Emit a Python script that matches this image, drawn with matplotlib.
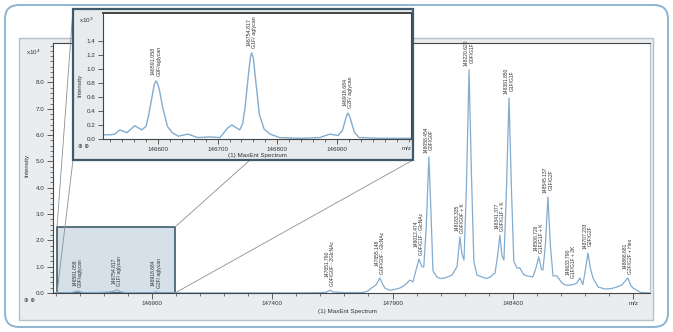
import numpy as np
import matplotlib
matplotlib.use("Agg")
import matplotlib.pyplot as plt
from matplotlib.patches import Rectangle, FancyBboxPatch
from matplotlib.lines import Line2D
from matplotlib.transforms import IdentityTransform
from matplotlib.ticker import MultipleLocator

plt.rcParams['font.family'] = ['Liberation Sans', 'DejaVu Sans']

# deconvoluted spectrum, full range (intensity x10^4)
main_mz = [146491, 146540, 146565, 146580, 146591, 146602, 146620, 146680, 146700, 146720,
           146740, 146754, 146768, 146790, 146880, 146905, 146918, 146930, 147000, 147500,
           147590, 147625, 147640, 147652, 147700, 147780, 147798, 147814, 147831, 147848,
           147858, 147868, 147889, 147915, 147931, 147951, 147972, 147985, 147997, 148010,
           148022, 148030, 148040, 148051, 148060, 148068, 148084, 148100, 148118, 148147,
           148168, 148180, 148188, 148197, 148207, 148218, 148228, 148238, 148251, 148271,
           148290, 148305, 148326, 148338, 148346, 148355, 148363, 148373, 148384, 148394,
           148404, 148417, 148429, 148445, 148459, 148483, 148496, 148508, 148519, 148525,
           148535, 148546, 148556, 148567, 148583, 148604, 148620, 148637, 148655, 148666,
           148679, 148691, 148702, 148712, 148722, 148733, 148754, 148783, 148810, 148830,
           148853, 148866, 148878, 148890, 148899, 148920, 148932, 148970]
main_int = [0.005, 0.01, 0.02, 0.045, 0.083, 0.04, 0.015, 0.02, 0.03, 0.035,
            0.06, 0.123, 0.05, 0.015, 0.01, 0.015, 0.037, 0.01, 0.005, 0.005,
            0.01, 0.03, 0.11, 0.04, 0.015, 0.02, 0.08, 0.2, 0.3, 0.57,
            0.35, 0.19, 0.1, 0.15, 0.19, 0.3, 0.49, 0.42, 0.85, 1.29,
            1.0, 0.99, 2.5, 5.17, 3.0, 0.85, 0.61, 0.55, 0.57, 0.68,
            1.0, 2.13, 1.5, 1.25, 4.0, 8.48, 4.5, 1.2, 0.68, 0.61,
            0.55, 0.6, 0.76, 1.5, 2.2, 1.4, 1.25, 3.8, 7.41, 4.0,
            1.2, 0.95, 0.95, 0.7, 0.65, 0.61, 0.95, 1.37, 0.9, 0.87,
            1.8, 3.65, 1.8, 0.65, 0.65, 0.38, 0.3, 0.3, 0.33, 0.38,
            0.57, 0.32, 0.9, 1.52, 0.95, 0.57, 0.23, 0.15, 0.17, 0.22,
            0.3, 0.45, 0.57, 0.3, 0.19, 0.08, 0.02, 0.005]

main_pk_mz = [146591, 146754, 146918, 147640, 147848, 148010, 148051, 148180,
              148218, 148346, 148384, 148508, 148546, 148640, 148712, 148878]
main_pk_int = [0.083, 0.123, 0.037, 0.11, 0.57, 1.29, 5.17, 2.13,
               8.48, 2.2, 7.41, 1.37, 3.65, 0.4, 1.52, 0.57]
main_pk_txt = ["146591.058\nG0F/aglycan", "146754.817\nG1F/ aglycan", "146918.684\nG2F/ aglycan",
               "147651.760\nG0F/G0F - 2GlcNAc", "147855.148\nG0F/G0F - GlcNAc",
               "148012.474\nG0F/G1F - GlcNAc", "148058.454\nG0F/G0F", "148183.335\nG0F/G0F + K",
               "148220.620\nG0F/G1F", "148341.377\nG0F/G1F + K", "148381.850\nG1F/G1F",
               "148508.726\nG1F/G1F + K", "148545.137\nG1F/G2F", "148633.790\nG1F/G1F + 2K",
               "148707.233\nG2F/G2F", "148868.681\nG2F/G2F + Hex"]

# zoomed region (intensity x10^3)
zoom_mz = [146508, 146520, 146528, 146536, 146548, 146561, 146573, 146580, 146584, 146589,
           146594, 146597, 146600, 146603, 146608, 146616, 146624, 146634, 146650, 146667,
           146687, 146704, 146717, 146724, 146737, 146742, 146746, 146752, 146755, 146757,
           146760, 146763, 146770, 146778, 146788, 146804, 146838, 146871, 146888, 146902,
           146909, 146915, 146918, 146921, 146929, 146937, 146972, 147024]
zoom_int = [0.06, 0.06, 0.07, 0.13, 0.09, 0.19, 0.13, 0.18, 0.32, 0.55,
            0.78, 0.83, 0.78, 0.68, 0.45, 0.18, 0.09, 0.04, 0.07, 0.02,
            0.03, 0.02, 0.16, 0.2, 0.13, 0.22, 0.45, 0.95, 1.17, 1.23,
            1.15, 0.9, 0.35, 0.14, 0.07, 0.02, 0.01, 0.02, 0.07, 0.05,
            0.12, 0.3, 0.37, 0.33, 0.1, 0.02, 0.01, 0.01]
zoom_pk_mz = [146597, 146757, 146918]
zoom_pk_int = [0.83, 1.23, 0.37]
zoom_pk_txt = main_pk_txt[:3]

W, H = 673, 332
line_col = '#82acd0'
dark = '#3e5a6b'
txt_col = '#333333'

fig = plt.figure(figsize=(W / 100, H / 100), dpi=100)
px = IdentityTransform()


def fpos(x, y):
    return x / W, 1 - y / H


def ftext(x, y, s, **kw):
    fx, fy = fpos(x, y)
    kw.setdefault('fontsize', 4.5)
    kw.setdefault('color', txt_col)
    kw.setdefault('ha', 'center')
    kw.setdefault('va', 'center')
    fig.text(fx, fy, s, **kw)


# outer rounded frame
fig.add_artist(FancyBboxPatch((5, H - 327), 663, 322, boxstyle="round,pad=0,rounding_size=14",
                              transform=px, fc='white', ec='#8db5d2', lw=1.4, zorder=0.1))
# main panel
fig.add_artist(Rectangle((19, H - 320), 634, 282, transform=px, fc='#eaedf0', ec='#b5c0c8',
                         lw=1.0, zorder=0.2))

ax = fig.add_axes([53 / W, 1 - 293 / H, 597 / W, 250 / H])
ax.set_zorder(1)
ax.add_patch(Rectangle((146505, 0), 491, 2.5, fc='#d5e0e9', ec=dark, lw=1.2, zorder=1))
ax.plot(main_mz, main_int, color=line_col, lw=0.9, zorder=2)
for m, v, t in zip(main_pk_mz, main_pk_int, main_pk_txt):
    ax.annotate(t, (m, v), xytext=(0, 3), textcoords='offset points', rotation=90,
                ha='center', va='bottom', multialignment='center', fontsize=3.6,
                color=txt_col, linespacing=1.15, zorder=3)
ax.set_xlim(146489, 148970)
ax.set_ylim(0, 9.5)
ax.set_xticks([146900, 147400, 147900, 148400, 148900])
ax.set_xticklabels(['146900', '147400', '147900', '148400', 'm/z'])
ax.xaxis.set_minor_locator(MultipleLocator(100))
ax.set_yticks(np.arange(0, 9))
ax.set_yticklabels(['%.1f' % v for v in np.arange(0, 9)])
ax.yaxis.set_minor_locator(MultipleLocator(0.2))
ax.tick_params(which='major', direction='out', length=4, width=0.6, labelsize=4.5, pad=2,
               colors='#444', labelcolor=txt_col)
ax.tick_params(which='minor', direction='out', length=2, width=0.5, colors='#444')
for s in ax.spines.values():
    s.set_color('#444')
    s.set_linewidth(0.8)
ax.spines['right'].set_color('#b5c0c8')

ftext(33, 52, r'x10$^4$', fontsize=4.5)
ftext(27, 165, 'Intensity', rotation=90, fontsize=4.5)
ftext(347, 312, '(1) MaxEnt Spectrum', fontsize=4.5)
ftext(30, 300, '\u2295 \u2295', fontsize=4, family='DejaVu Sans')

# connector lines between box and inset
for (x1, y1), (x2, y2) in [((57, 227), (73, 9)), ((57, 293), (73, 160)),
                           ((175, 227), (250, 160)), ((175, 293), (413, 160))]:
    fig.add_artist(Line2D([x1, x2], [H - y1, H - y2], transform=px, color='#8a8f94',
                          lw=0.6, zorder=1.5))

# inset panel
fig.add_artist(Rectangle((73, H - 160), 340, 151, transform=px, fc='#e7ebee', ec=dark,
                         lw=1.6, zorder=2))
axi = fig.add_axes([103 / W, 1 - 139 / H, 308 / W, 126 / H])
axi.set_zorder(3)
axi.plot(zoom_mz, zoom_int, color=line_col, lw=1.0)
for m, v, t in zip(zoom_pk_mz, zoom_pk_int, zoom_pk_txt):
    axi.annotate(t, (m, v), xytext=(0, 3.5), textcoords='offset points', rotation=90,
                 ha='center', va='bottom', multialignment='center', fontsize=3.8,
                 color=txt_col, linespacing=1.15)
axi.set_xlim(146508, 147024)
axi.set_ylim(0, 1.8)
axi.set_xticks([146600, 146700, 146800, 146900])
axi.xaxis.set_minor_locator(MultipleLocator(20))
axi.set_yticks(np.arange(0, 1.41, 0.2))
axi.set_yticklabels(['%.1f' % v for v in np.arange(0, 1.41, 0.2)])
axi.tick_params(which='major', direction='out', length=3.5, width=0.6, labelsize=4.5, pad=2,
                colors='#444', labelcolor=txt_col)
axi.tick_params(which='minor', direction='out', length=2, width=0.5, colors='#444')
for s in axi.spines.values():
    s.set_color('#444')
    s.set_linewidth(0.8)
axi.spines['top'].set_linewidth(1.4)

ftext(86, 20, r'x10$^3$', fontsize=4.5, zorder=4)
ftext(80, 85, 'Intensity', rotation=90, fontsize=4.5, zorder=4)
ftext(257, 155, '(1) MaxEnt Spectrum', fontsize=4.5, zorder=4)
ftext(407, 148, 'm/z', fontsize=4.5, zorder=4)
ftext(84, 147, '\u2295 \u2295', fontsize=4, family='DejaVu Sans', zorder=4)

fig.savefig('out.png', dpi=100)
